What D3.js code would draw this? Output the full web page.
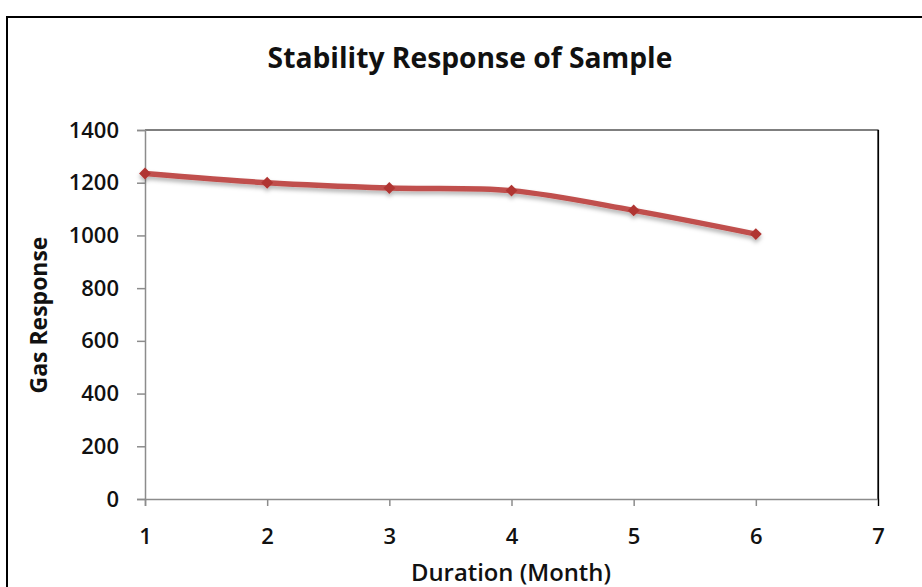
<!DOCTYPE html>
<html><head><meta charset="utf-8">
<script src="https://cdn.jsdelivr.net/npm/d3@7"></script>
<style>body{margin:0;background:#fff}svg{display:block}</style>
</head><body>
<svg id="c" width="922" height="587"></svg>
<script>
const months = [1, 2, 3, 4, 5, 6];
const gasResponse = [1235, 1200, 1180, 1170, 1095, 1005];
const xTicks = [1, 2, 3, 4, 5, 6, 7];
const yTicks = [0, 200, 400, 600, 800, 1000, 1200, 1400];
const titleText = "Stability Response of Sample";
const xTitle = "Duration (Month)";
const yTitle = "Gas Response";

const svg = d3.select("#c");
const font = "Open Sans, Lato, sans-serif";
const m = {left: 145, right: 878, top: 130, bottom: 499};

svg.append("rect").attr("width", 922).attr("height", 587).attr("fill", "#fff");
svg.append("rect").attr("x", 7).attr("y", 17).attr("width", 930).attr("height", 600)
  .attr("fill", "none").attr("stroke", "#000").attr("stroke-width", 2);

const x = d3.scaleLinear().domain([1, 7]).range([m.left, m.right]);
const y = d3.scaleLinear().domain([0, 1400]).range([m.bottom, m.top]);

svg.append("path").attr("d", `M${m.left},${m.top}H${m.right}V${m.bottom}`)
  .attr("fill", "none").attr("stroke", "#000").attr("stroke-width", 1.2);

const yAxis = svg.append("g").attr("transform", `translate(${m.left},0)`)
  .call(d3.axisLeft(y).tickValues(yTicks).tickFormat(d3.format("d")).tickSize(8).tickPadding(18));
const xAxis = svg.append("g").attr("transform", `translate(0,${m.bottom})`)
  .call(d3.axisBottom(x).tickValues(xTicks).tickFormat(d3.format("d")).tickSize(7).tickPadding(22));
[yAxis, xAxis].forEach(g => {
  g.select(".domain").attr("stroke", "#8c8c8c").attr("stroke-width", 1.5);
  g.selectAll(".tick line").attr("stroke", "#8c8c8c").attr("stroke-width", 1.5);
  g.selectAll("text").attr("font-family", font).attr("font-weight", 600)
    .attr("font-size", 22).attr("fill", "#111");
});
xAxis.selectAll(".tick").filter(d => d === 7).select("line").attr("y1", -369).attr("stroke", "#000").attr("stroke-width", 1.2);

const defs = svg.append("defs");
const f = defs.append("filter").attr("id", "sh").attr("x", "-10%").attr("y", "-50%").attr("width", "120%").attr("height", "200%");
f.append("feDropShadow").attr("dx", 0).attr("dy", 3).attr("stdDeviation", 2).attr("flood-color", "#000").attr("flood-opacity", 0.3);

const data = months.map((mo, i) => ({mo, v: gasResponse[i]}));
const line = d3.line().x(d => x(d.mo)).y(d => y(d.v)).curve(d3.curveCatmullRom.alpha(0.5));
const g = svg.append("g").attr("filter", "url(#sh)");
g.append("path").attr("d", line(data)).attr("fill", "none")
  .attr("stroke", "#c0504d").attr("stroke-width", 5.5).attr("stroke-linecap", "round");
g.selectAll("path.m").data(data).enter().append("path").attr("class", "m")
  .attr("d", d3.symbol().type(d3.symbolDiamond2).size(90))
  .attr("transform", d => `translate(${x(d.mo)},${y(d.v)})`)
  .attr("fill", "#b03633");

function fitText(sel, w) {
  const cur = sel.node().getComputedTextLength();
  const fs = parseFloat(sel.attr("font-size"));
  sel.attr("font-size", fs * w / cur);
}
const t = svg.append("text").attr("x", 470).attr("y", 68).attr("text-anchor", "middle")
  .attr("font-family", font).attr("font-weight", 700).attr("font-size", 24).attr("fill", "#111").text(titleText);
fitText(t, 405);
const xt = svg.append("text").attr("x", 511).attr("y", 581).attr("text-anchor", "middle")
  .attr("font-family", font).attr("font-weight", 600).attr("font-size", 20).attr("fill", "#111").text(xTitle);
fitText(xt, 200);
const yt = svg.append("text").attr("transform", "translate(47,315) rotate(-90)").attr("text-anchor", "middle")
  .attr("font-family", font).attr("font-weight", 700).attr("font-size", 18).attr("fill", "#111").text(yTitle);
fitText(yt, 157);
</script>
</body></html>
